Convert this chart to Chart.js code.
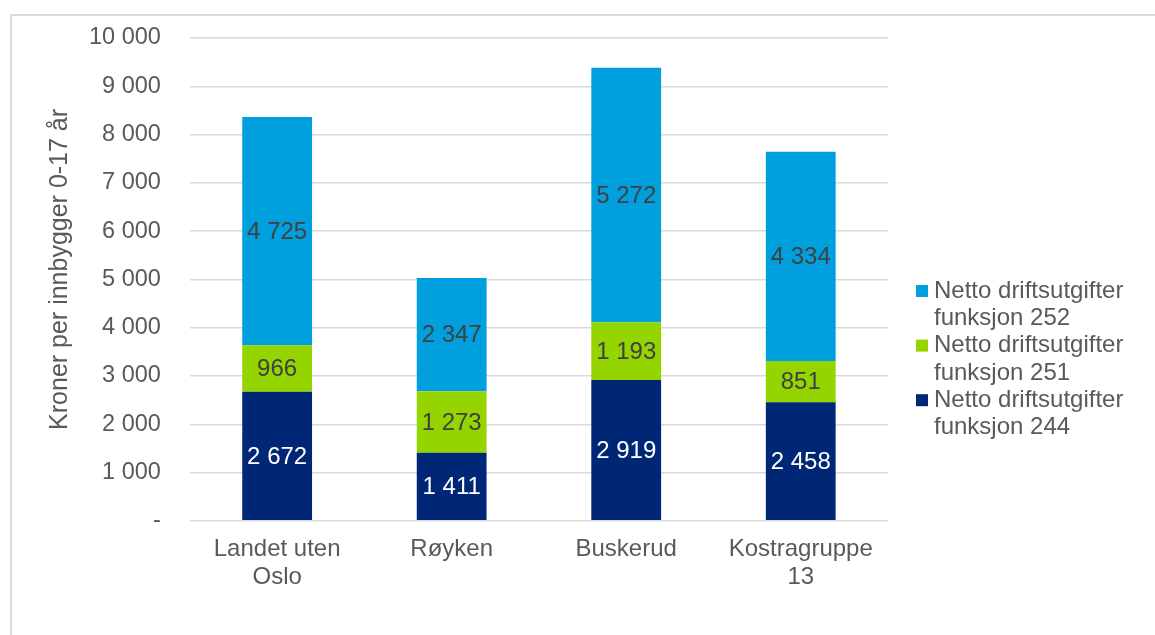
<!DOCTYPE html>
<html>
<head>
<meta charset="utf-8">
<script src="https://cdn.jsdelivr.net/npm/chart.js@4"></script>
<style>
  body { margin: 0; background: #fff; }
  #frame { position: absolute; left: 10px; top: 14px; width: 1200px; height: 700px;
           border-left: 2px solid #d9d9d9; border-top: 2px solid #d9d9d9; }
  #wrap { position: absolute; left: 0; top: 0; width: 1155px; height: 635px; }
</style>
</head>
<body>
<div id="frame"></div>
<div id="wrap"><canvas id="chart"></canvas></div>
<script>
const categories = [["Landet uten", "Oslo"], "Røyken", "Buskerud", ["Kostragruppe", "13"]];
const seriesNames = [
  ["Netto driftsutgifter", "funksjon 244"],
  ["Netto driftsutgifter", "funksjon 251"],
  ["Netto driftsutgifter", "funksjon 252"]
];
const funksjon244 = [2672, 1411, 2919, 2458];
const funksjon251 = [966, 1273, 1193, 851];
const funksjon252 = [4725, 2347, 5272, 4334];
const seriesColors = ["#002776", "#94d500", "#00a0df"];
const labelColors = ["#ffffff", "#404040", "#404040"];
const yTitle = "Kroner per innbygger 0-17 år";

const fontFamily = "'Liberation Sans', Arial, sans-serif";

function fmt(v) {
  if (v === 0) return "-";
  return String(v).replace(/\B(?=(\d{3})+(?!\d))/g, " ");
}

// values drawn in the middle of each bar segment
const valueLabels = {
  id: "valueLabels",
  afterDatasetsDraw(chart) {
    const ctx = chart.ctx;
    ctx.save();
    ctx.font = "24px " + fontFamily;
    ctx.textAlign = "center";
    ctx.textBaseline = "middle";
    chart.data.datasets.forEach((ds, i) => {
      chart.getDatasetMeta(i).data.forEach((bar, j) => {
        ctx.fillStyle = labelColors[i];
        ctx.fillText(fmt(ds.data[j]), bar.x, (bar.y + bar.base) / 2 + 1);
      });
    });
    ctx.restore();
  }
};

// y axis title, placed like the excel original (a bit above the plot centre)
const axisTitle = {
  id: "axisTitle",
  afterDraw(chart) {
    const ctx = chart.ctx;
    const area = chart.chartArea;
    ctx.save();
    ctx.translate(60, (area.top + area.bottom) / 2 - 10);
    ctx.rotate(-Math.PI / 2);
    ctx.font = "25px " + fontFamily;
    ctx.fillStyle = "#595959";
    ctx.textAlign = "center";
    ctx.textBaseline = "middle";
    ctx.fillText(yTitle, 0, 0);
    ctx.restore();
  }
};

// legend on the right, wrapped over two lines, top series first
const sideLegend = {
  id: "sideLegend",
  afterDraw(chart) {
    const ctx = chart.ctx;
    const area = chart.chartArea;
    const x = area.right + 28;
    let y = 291;
    ctx.save();
    ctx.font = "24px " + fontFamily;
    ctx.textBaseline = "middle";
    for (let i = chart.data.datasets.length - 1; i >= 0; i--) {
      const ds = chart.data.datasets[i];
      ctx.fillStyle = ds.backgroundColor;
      ctx.fillRect(x, y - 6, 12, 12);
      ctx.fillStyle = "#595959";
      ds.label.forEach((line, k) => {
        ctx.fillText(line, x + 18, y + k * 27.3);
      });
      y += 54.6;
    }
    ctx.restore();
  }
};

const ctx = document.getElementById("chart").getContext("2d");

new Chart(ctx, {
  type: "bar",
  data: {
    labels: categories,
    datasets: [
      { label: seriesNames[0], data: funksjon244, backgroundColor: seriesColors[0] },
      { label: seriesNames[1], data: funksjon251, backgroundColor: seriesColors[1] },
      { label: seriesNames[2], data: funksjon252, backgroundColor: seriesColors[2] }
    ]
  },
  options: {
    responsive: true,
    maintainAspectRatio: false,
    animation: false,
    datasets: { bar: { categoryPercentage: 1, barPercentage: 0.4 } },
    layout: { padding: { left: 60, right: 267, top: 38, bottom: 30 } },
    plugins: { legend: { display: false }, tooltip: { enabled: false } },
    scales: {
      x: {
        stacked: true,
        grid: { display: false, drawTicks: false },
        border: { display: false },
        ticks: {
          color: "#595959", padding: 14, maxRotation: 0,
          font: { family: fontFamily, size: 24, lineHeight: 1.17 }
        }
      },
      y: {
        stacked: true,
        min: 0, max: 10000,
        grid: { color: "#d9d9d9", lineWidth: 1.5, drawTicks: false },
        border: { display: false },
        ticks: {
          stepSize: 1000, padding: 29, color: "#595959",
          font: { family: fontFamily, size: 23.5 },
          callback: v => fmt(v)
        },
        // tick padding is horizontal here, don't let it push the plot down
        afterFit(scale) {
          scale.paddingTop = 0;
        }
      }
    }
  },
  plugins: [valueLabels, axisTitle, sideLegend]
});
</script>
</body>
</html>
